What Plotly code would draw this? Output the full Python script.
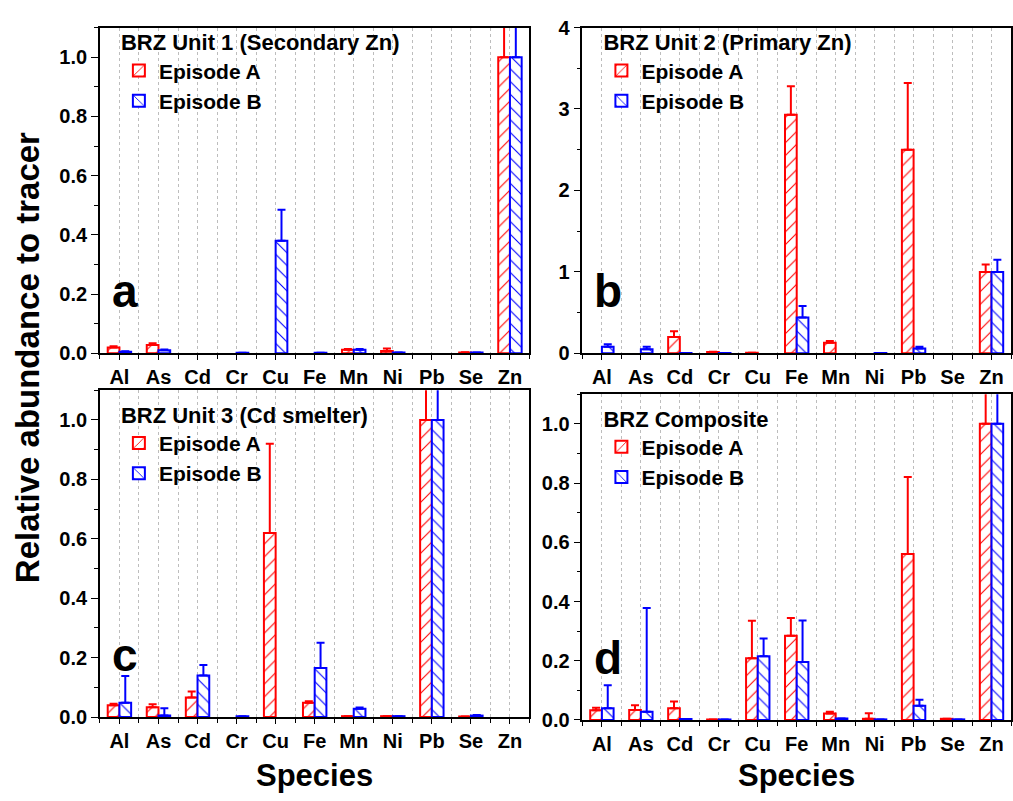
import plotly.graph_objects as go

species = ["Al", "As", "Cd", "Cr", "Cu", "Fe", "Mn", "Ni", "Pb", "Se", "Zn"]
series_names = ["Episode A", "Episode B"]

# None = no bar visible in the reference
# Panel a: BRZ Unit 1 (Secondary Zn)
a_A = [0.02, 0.028, None, None, None, None, 0.012, 0.008, None, 0.003, 1.0]
a_A_err = [0.004, 0.006, 0, 0, 0, 0, 0.003, 0.008, 0, 0.001, 0.12]
a_B = [0.005, 0.01, None, 0.002, 0.38, 0.002, 0.012, 0.003, None, 0.003, 1.0]
a_B_err = [0.002, 0.003, 0, 0, 0.105, 0, 0.003, 0, 0, 0, 0.15]

# Panel b: BRZ Unit 2 (Primary Zn)
b_A = [None, None, 0.2, 0.015, 0.008, 2.93, 0.13, None, 2.5, None, 1.0]
b_A_err = [0, 0, 0.07, 0.005, 0, 0.35, 0.02, 0, 0.82, 0, 0.09]
b_B = [0.08, 0.05, 0.005, 0.005, None, 0.44, None, 0.005, 0.06, None, 1.0]
b_B_err = [0.03, 0.03, 0, 0, 0, 0.14, 0, 0, 0.02, 0, 0.15]

# Panel c: BRZ Unit 3 (Cd smelter)
c_A = [0.04, 0.033, 0.066, None, 0.62, 0.048, 0.003, 0.003, 1.0, 0.002, None]
c_A_err = [0.005, 0.01, 0.02, 0, 0.3, 0.005, 0, 0, 0.15, 0, 0]
c_B = [0.048, 0.005, 0.14, 0.003, None, 0.165, 0.028, 0.003, 1.0, 0.005, None]
c_B_err = [0.09, 0.025, 0.035, 0, 0, 0.085, 0.004, 0, 0.15, 0.002, 0]

# Panel d: BRZ Composite
d_A = [0.033, 0.034, 0.04, 0.002, 0.208, 0.284, 0.022, 0.004, 0.56, 0.004, 1.0]
d_A_err = [0.008, 0.016, 0.022, 0, 0.127, 0.06, 0.006, 0.019, 0.26, 0, 0.15]
d_B = [0.04, 0.028, 0.003, 0.002, 0.215, 0.196, 0.005, 0.002, 0.048, 0.002, 1.0]
d_B_err = [0.077, 0.35, 0, 0, 0.06, 0.14, 0, 0, 0.02, 0, 0.15]

panel_titles = ["BRZ Unit 1 (Secondary Zn)", "BRZ Unit 2 (Primary Zn)",
                "BRZ Unit 3 (Cd smelter)", "BRZ Composite"]
panel_letters = ["a", "b", "c", "d"]
y_ranges = [[0, 1.1], [0, 4], [0, 1.1], [0, 1.1]]

W, H = 1013, 801
FONT = "Liberation Sans, Arial, sans-serif"
RED = "#FF0000"
BLUE = "#0000FF"

# pixel boxes of each panel: (left, right, top, bottom)
boxes = [(100, 530, 17, 352), (583, 1012, 17, 352),
         (100, 530, 390, 726), (583, 1012, 394, 729)]
legend_top = [11, 11, 394, 398]

xs = list(range(len(species)))
data = [(a_A, a_A_err, a_B, a_B_err), (b_A, b_A_err, b_B, b_B_err),
        (c_A, c_A_err, c_B, c_B_err), (d_A, d_A_err, d_B, d_B_err)]

fig = go.Figure()
for i, (vA, eA, vB, eB) in enumerate(data):
    suffix = "" if i == 0 else str(i + 1)
    leg = "legend" + suffix
    for name, vals, errs, col, shp in [(series_names[0], vA, eA, RED, "/"),
                                       (series_names[1], vB, eB, BLUE, "\\")]:
        fig.add_trace(go.Bar(
            x=xs, y=vals, name=name,
            xaxis="x" + suffix, yaxis="y" + suffix, legend=leg,
            offsetgroup=name,
            marker=dict(color="white", line=dict(color=col, width=2),
                        pattern=dict(shape=shp, fgcolor=col, bgcolor="white",
                                     size=9, solidity=0.12, fillmode="replace")),
            error_y=dict(type="data", array=errs, arrayminus=[0] * len(errs),
                         symmetric=False, color=col, thickness=2, width=4),
        ))

layout = dict(
    width=W, height=H, margin=dict(l=0, r=0, t=0, b=0),
    paper_bgcolor="white", plot_bgcolor="white",
    barmode="group", bargap=0.4, bargroupgap=0,
    font=dict(family=FONT, size=20, color="black", weight="bold"),
    annotations=[],
)

TICKFONT = dict(family=FONT, size=20, color="black", weight="bold")

for i, (l, r, t, b) in enumerate(boxes):
    suffix = "" if i == 0 else str(i + 1)
    xdom = [l / W, r / W]
    ydom = [1 - b / H, 1 - t / H]
    rng = y_ranges[i]
    if i == 1:
        dt, mdt = 1, 0.5
    else:
        dt, mdt = 0.2, 0.1
    layout["xaxis" + suffix] = dict(
        domain=xdom, anchor="y" + suffix, range=[-0.5, len(species) - 0.5],
        tickmode="array", tickvals=xs, ticktext=species,
        ticks="outside", ticklen=5, tickwidth=1, tickcolor="black",
        showline=True, linecolor="black", linewidth=1.5, mirror=True,
        showgrid=True, gridcolor="#BDBDBD", griddash="dot", gridwidth=1,
        zeroline=False, tickfont=TICKFONT,
        minor=dict(tick0=0.5, dtick=1, ticks="outside", ticklen=4,
                   tickcolor="black", showgrid=True, gridcolor="#BDBDBD",
                   griddash="dot", gridwidth=1),
    )
    fmt = ".1f" if i != 1 else "d"
    layout["yaxis" + suffix] = dict(
        domain=ydom, anchor="x" + suffix, range=rng,
        tick0=0, dtick=dt, tickformat=fmt,
        ticks="outside", ticklen=7, tickwidth=1, tickcolor="black",
        showline=True, linecolor="black", linewidth=1.5, mirror=True,
        showgrid=False, zeroline=False, tickfont=TICKFONT,
        minor=dict(tick0=0, dtick=mdt, ticks="outside", ticklen=4,
                   tickcolor="black", showgrid=False),
    )
    # right-side inward ticks (no labels)
    layout["yaxis" + str(i + 5)] = dict(
        overlaying="y" + suffix, anchor="x" + suffix, side="right", range=rng,
        tick0=0, dtick=dt, ticks="inside", ticklen=7, tickwidth=1,
        tickcolor="black", showticklabels=False, showline=False,
        showgrid=False, zeroline=False,
        minor=dict(tick0=0, dtick=mdt, ticks="inside", ticklen=4,
                   tickcolor="black", showgrid=False),
    )
    layout["legend" + suffix] = dict(
        x=(l + 19) / W, y=1 - legend_top[i] / H, xanchor="left", yanchor="top",
        bgcolor="rgba(0,0,0,0)", borderwidth=0,
        title=dict(text=panel_titles[i],
                   font=dict(family=FONT, size=22, color="black", weight="bold")),
        font=dict(family=FONT, size=21, color="black", weight="bold"),
        tracegroupgap=0,
    )
    layout["annotations"].append(dict(
        text=panel_letters[i], x=(l + 10) / W, y=1 - (b - 64) / H,
        xref="paper", yref="paper", xanchor="left", yanchor="middle",
        showarrow=False,
        font=dict(family=FONT, size=46, color="black", weight="bold")))

layout["annotations"].append(dict(
    text="Relative abundance to tracer", x=27 / W, y=1 - 356 / H,
    xref="paper", yref="paper", textangle=-90, showarrow=False,
    xanchor="center", yanchor="middle",
    font=dict(family=FONT, size=33, color="black", weight="bold")))
for cx in [315, 797]:
    layout["annotations"].append(dict(
        text="Species", x=cx / W, y=1 - 786 / H, xref="paper", yref="paper",
        showarrow=False, xanchor="center", yanchor="middle",
        font=dict(family=FONT, size=31, color="black", weight="bold")))

fig.update_layout(**layout)
fig.write_html("out.html")
